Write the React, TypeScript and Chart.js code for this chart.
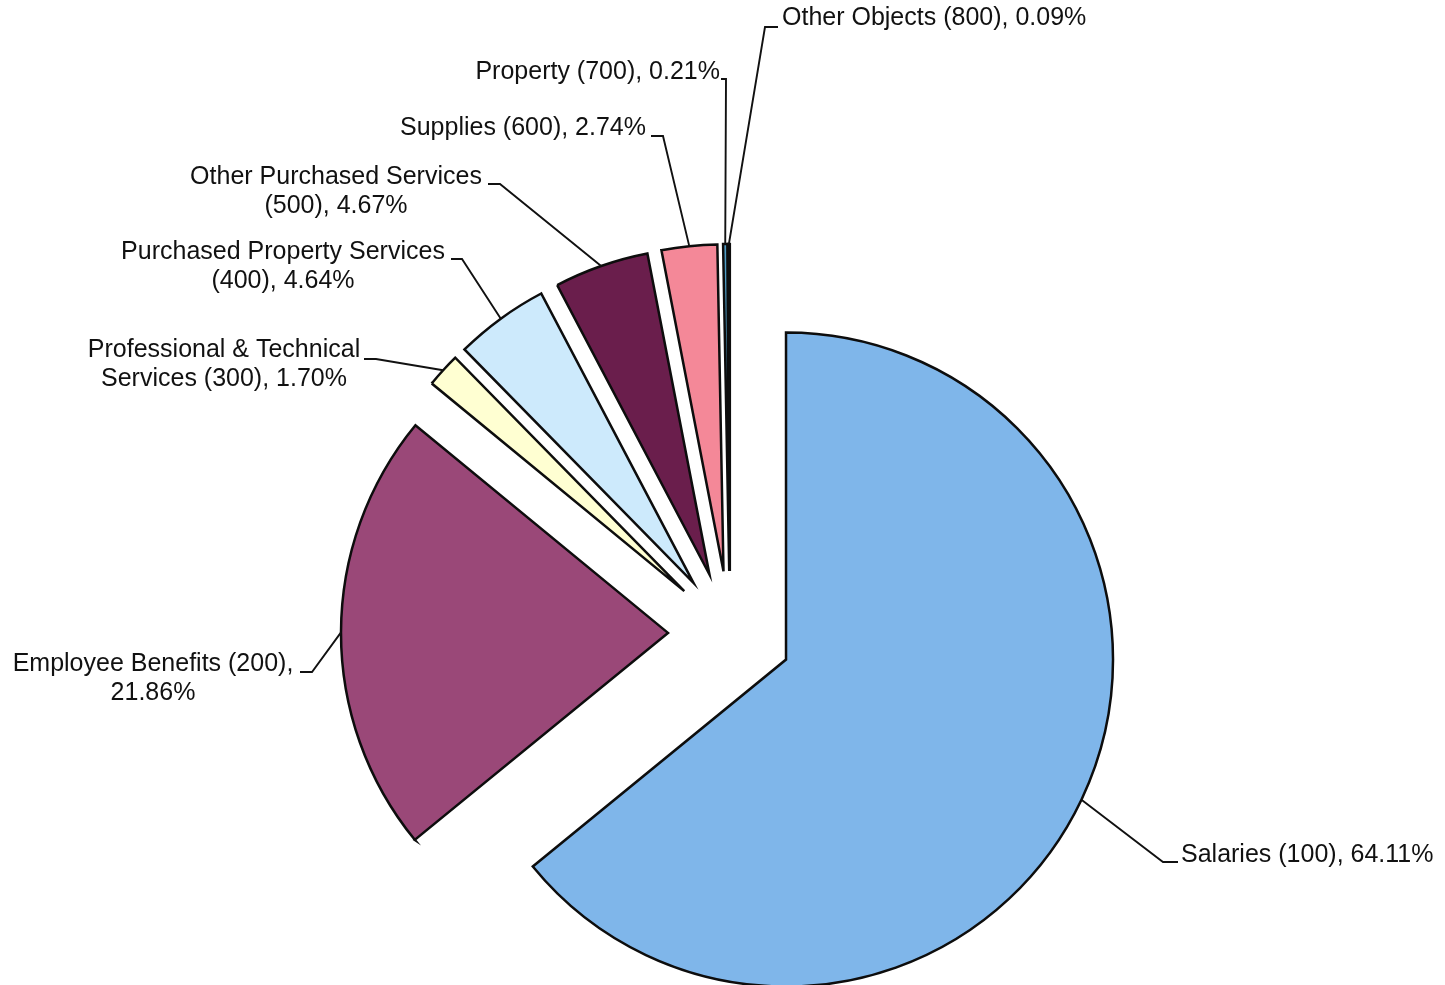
import React, { useEffect, useRef } from 'react';
import { Chart, registerables } from 'chart.js';

Chart.register(...registerables);

// ---- Data ----
const categories = [
  'Salaries',
  'Employee Benefits',
  'Professional & Technical Services',
  'Purchased Property Services',
  'Other Purchased Services',
  'Supplies',
  'Property',
  'Other Objects',
];
const objectCodes = ['100', '200', '300', '400', '500', '600', '700', '800'];
const percentages = [64.11, 21.86, 1.7, 4.64, 4.67, 2.74, 0.21, 0.09];

// ---- Styles ----
const sliceColors = ['#7fb6ea', '#9a4878', '#ffffd2', '#cdeafc', '#6a1e4c', '#f48898', '#4f9cc4', '#1e3a66'];
const EXPLODE = 62;
const PIE_RADIUS = 327;
const FONT = '25px "Liberation Sans", Arial, sans-serif';
const LINE_HEIGHT = 29;

// label placement (layout only)
type Layout = {
  breakAfter: string | null;
  x: number;
  y: number;
  align: CanvasTextAlign;
  elbow: [number, number];
  stub: [number, number];
};
const labelLayout: Layout[] = [
  { breakAfter: null, x: 1181, y: 855, align: 'left', elbow: [1163, 862], stub: [1178, 862] },
  { breakAfter: '(200),', x: 153, y: 664, align: 'center', elbow: [312, 672], stub: [300, 672] },
  { breakAfter: 'Technical', x: 224, y: 350, align: 'center', elbow: [376, 359], stub: [364, 359] },
  { breakAfter: 'Services', x: 283, y: 252, align: 'center', elbow: [462, 259], stub: [451, 259] },
  { breakAfter: 'Services', x: 336, y: 177, align: 'center', elbow: [500, 184], stub: [488, 184] },
  { breakAfter: null, x: 646, y: 128, align: 'right', elbow: [663, 136], stub: [651, 136] },
  { breakAfter: null, x: 720, y: 72, align: 'right', elbow: [726, 79], stub: [721, 79] },
  { breakAfter: null, x: 782, y: 18, align: 'left', elbow: [765, 27], stub: [778, 27] },
];

function labelLines(i: number): string[] {
  const full = `${categories[i]} (${objectCodes[i]}), ${percentages[i].toFixed(2)}%`;
  const b = labelLayout[i].breakAfter;
  if (!b) return [full];
  const idx = full.indexOf(b) + b.length;
  return [full.slice(0, idx).trim(), full.slice(idx).trim()];
}

const explodedPie = {
  id: 'explodedPie',
  beforeDatasetDraw(chart: any, args: any) {
    const ctx = chart.ctx;
    args.meta.data.forEach((arc: any) => {
      const mid = (arc.startAngle + arc.endAngle) / 2;
      ctx.save();
      ctx.translate(Math.cos(mid) * EXPLODE, Math.sin(mid) * EXPLODE);
      arc.draw(ctx, chart.chartArea);
      ctx.restore();
    });
    return false;
  },
  afterDatasetsDraw(chart: any) {
    const ctx = chart.ctx;
    const meta = chart.getDatasetMeta(0);
    ctx.save();
    ctx.strokeStyle = '#111111';
    ctx.lineWidth = 1.9;
    meta.data.forEach((arc: any, i: number) => {
      const mid = (arc.startAngle + arc.endAngle) / 2;
      const r = arc.outerRadius + EXPLODE;
      const sx = arc.x + Math.cos(mid) * r;
      const sy = arc.y + Math.sin(mid) * r;
      const L = labelLayout[i];
      ctx.beginPath();
      ctx.moveTo(sx, sy);
      ctx.lineTo(L.elbow[0], L.elbow[1]);
      ctx.lineTo(L.stub[0], L.stub[1]);
      ctx.stroke();
    });
    ctx.fillStyle = '#111111';
    ctx.font = FONT;
    ctx.textBaseline = 'middle';
    labelLayout.forEach((L, i) => {
      ctx.textAlign = L.align;
      labelLines(i).forEach((line, k) => {
        ctx.fillText(line, L.x, L.y + k * LINE_HEIGHT);
      });
    });
    ctx.restore();
  },
};

export default function App() {
  const canvasRef = useRef<HTMLCanvasElement | null>(null);

  useEffect(() => {
    if (!canvasRef.current) return;
    const chart = new Chart(canvasRef.current, {
      type: 'pie',
      data: {
        labels: categories,
        datasets: [
          {
            data: percentages,
            backgroundColor: sliceColors,
            borderColor: '#0d0d0d',
            borderWidth: 2.5,
            borderJoinStyle: 'miter',
            radius: PIE_RADIUS,
            clip: false,
          } as any,
        ],
      },
      options: {
        responsive: false,
        animation: false,
        layout: { padding: { left: 15, right: 0, top: 281, bottom: 0 } },
        plugins: {
          legend: { display: false },
          tooltip: { enabled: false },
        },
        events: [],
      },
      plugins: [explodedPie],
    });
    return () => chart.destroy();
  }, []);

  return (
    <div style={{ position: 'absolute', left: 0, top: 0, width: 1445, height: 985, background: '#ffffff' }}>
      <canvas ref={canvasRef} width={1445} height={985} style={{ display: 'block' }} />
    </div>
  );
}
